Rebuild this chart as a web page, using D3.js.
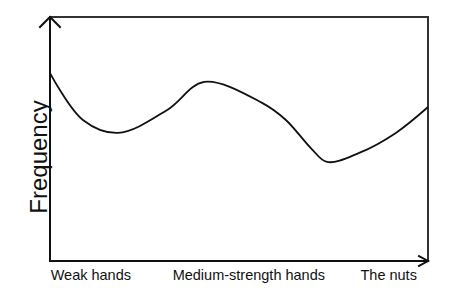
<!DOCTYPE html>
<html>
<head>
<meta charset="utf-8">
<script src="https://cdn.jsdelivr.net/npm/d3@7"></script>
<style>
  body { margin: 0; background: #fff; }
  svg { display: block; }
</style>
</head>
<body>
<svg></svg>
<script>
// hand strength (0 = weakest, 100 = the nuts) vs relative frequency
const strength = [0, 8.7, 18, 31, 40.8, 56.1, 62.4, 69, 73.3, 81.8, 91.5, 100];
const frequency = [77, 57.8, 52.5, 61.9, 73.4, 64.8, 57.8, 46.3, 40.6, 44.3, 52.5, 63.1];
const categories = ["Weak hands", "Medium-strength hands", "The nuts"];
const categoryAt = [10.8, 52.6, 89.6];
const yTitle = "Frequency";

const width = 458;
const height = 299;
const margin = { top: 17, left: 50, right: 30, bottom: 38 };

const svg = d3.select("svg").attr("width", width).attr("height", height);

const x = d3.scaleLinear().domain([0, 100]).range([margin.left, width - margin.right]);
const y = d3.scaleLinear().domain([0, 100]).range([height - margin.bottom, margin.top]);

const frame = svg.append("g").attr("fill", "none").attr("stroke-linecap", "square");

// top and right borders
frame.append("path")
  .attr("d", `M${x(0)},${y(100)}H${x(100)}V${y(0)}`)
  .attr("stroke", "#333")
  .attr("stroke-width", 2);

// axes with arrow heads
frame.append("path")
  .attr("d", `M${x(0)},${y(0)}V${y(100)}M${x(0) - 10},${y(100) + 10}L${x(0)},${y(100)}L${x(0) + 10},${y(100) + 10}`)
  .attr("stroke", "#111")
  .attr("stroke-width", 2);

frame.append("path")
  .attr("d", `M${x(0)},${y(0)}H${x(100)}M${x(100) - 9},${y(0) - 5}L${x(100)},${y(0)}L${x(100) - 9},${y(0) + 5}`)
  .attr("stroke", "#111")
  .attr("stroke-width", 2);

// the distribution curve
const line = d3.line()
  .x((d, i) => x(strength[i]))
  .y(d => y(d))
  .curve(d3.curveCatmullRom.alpha(0.5));

svg.append("path")
  .datum(frequency)
  .attr("d", line)
  .attr("fill", "none")
  .attr("stroke", "#111")
  .attr("stroke-width", 1.8);

// category labels
svg.selectAll("text.cat")
  .data(categories)
  .join("text")
  .classed("cat", true)
  .attr("x", (_, i) => x(categoryAt[i]))
  .attr("y", y(0) + 19)
  .attr("text-anchor", "middle")
  .attr("font-family", "Liberation Sans, Arial, sans-serif")
  .attr("font-size", 14.5)
  .attr("fill", "#111")
  .text(d => d);

// y title
svg.append("text")
  .attr("transform", `translate(47,${(y(0) + y(100)) / 2 + 18}) rotate(-90)`)
  .attr("text-anchor", "middle")
  .attr("font-family", "Liberation Sans, Arial, sans-serif")
  .attr("font-size", 24)
  .attr("fill", "#111")
  .text(yTitle);
</script>
</body>
</html>
